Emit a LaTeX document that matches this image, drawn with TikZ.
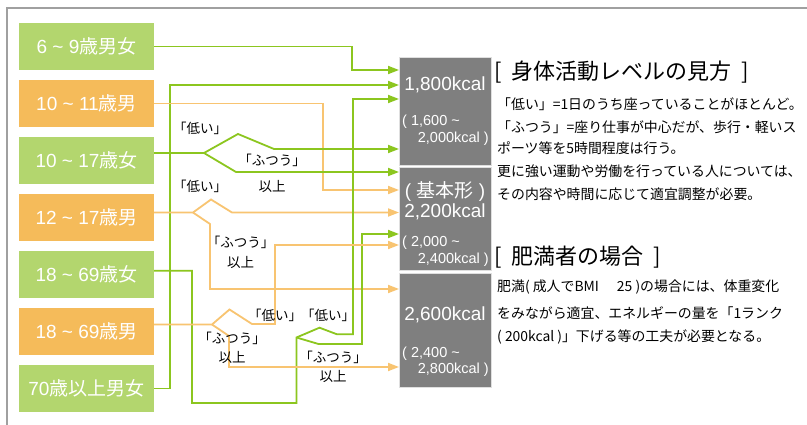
\documentclass[tikz,border=0pt]{standalone}
\usepackage{fontspec}
\setmainfont{Liberation Sans}
\newfontfamily\cj{Noto Sans CJK JP}
\usetikzlibrary{arrows.meta}
\definecolor{gbox}{RGB}{179,214,110}
\definecolor{obox}{RGB}{245,187,90}
\definecolor{gline}{RGB}{140,198,31}
\definecolor{oline}{RGB}{248,196,113}
\definecolor{kbox}{RGB}{127,127,127}
\definecolor{frm}{RGB}{160,160,160}
\newcommand{\tld}{\textasciitilde}
\tikzset{
  agebox/.style={minimum width=135pt, minimum height=47pt, inner sep=0pt, text=white, font=\fontsize{19}{19}\selectfont},
  gbx/.style={agebox, fill=gbox},
  obx/.style={agebox, fill=obox},
  kbx/.style={fill=kbox, draw=white!75!gray, line width=0.8pt, minimum width=92pt, inner sep=0pt, anchor=north west},
  kt/.style={text=white, inner sep=0pt, font=\fontsize{19}{19}\selectfont},
  ks/.style={text=white, inner sep=0pt, font=\fontsize{14.5}{15}\selectfont},
  tip/.style={-{Triangle[length=11pt,width=8pt]}},
  gl/.style={draw=gline, line width=1.8pt, tip},
  ol/.style={draw=oline, line width=1.8pt, tip},
  lbl/.style={inner sep=0pt, font=\cj\fontsize{13.5}{14}\selectfont},
  body/.style={inner sep=0pt, anchor=west, font=\cj\fontsize{13.9}{14}\selectfont},
  ttl/.style={inner sep=0pt, anchor=west, font=\cj\fontsize{22}{22}\selectfont},
}
\begin{document}
\begin{tikzpicture}[x=1pt,y=-1pt]
\useasboundingbox (0,0) rectangle (807,425);
\fill[white] (0,0) rectangle (807,425);
\draw[frm, line width=2pt] (7,426) -- (7,8) -- (808,8);

% age boxes
\node[gbx] (a1) at (86.5,46.5) {6 \tld\ 9{\cj 歳男女}};
\node[obx] (a2) at (86.5,103.5) {10 \tld\ 11{\cj 歳男}};
\node[gbx] (a3) at (86.5,160.5) {10 \tld\ 17{\cj 歳女}};
\node[obx] (a4) at (86.5,217.5) {12 \tld\ 17{\cj 歳男}};
\node[gbx] (a5) at (86.5,274.5) {18 \tld\ 69{\cj 歳女}};
\node[obx] (a6) at (86.5,331.5) {18 \tld\ 69{\cj 歳男}};
\node[gbx] (a7) at (86.5,388.5) {70{\cj 歳以上男女}};

% kcal boxes
\node[kbx, minimum height=108pt] (k1) at (399,57) {};
\node[kbx, minimum height=103pt] (k2) at (399,167) {};
\node[kbx, minimum height=114pt] (k3) at (399,273) {};

\node[kt] (t1) at (445,85) {1,800kcal};
\node[ks, anchor=west] (t1a) at (402,121.7) {( 1,600 \tld};
\node[ks, anchor=east] (t1b) at (489,139) {2,000kcal )};
\node[kt] (t2a) at (445,191.7) {( {\cj 基本形} )};
\node[kt] (t2b) at (445,212) {2,200kcal};
\node[ks, anchor=west] (t2c) at (402,242.3) {( 2,000 \tld};
\node[ks, anchor=east] (t2d) at (489,260) {2,400kcal )};
\node[kt] (t3a) at (445,315) {2,600kcal};
\node[ks, anchor=west] (t3b) at (402,353.3) {( 2,400 \tld};
\node[ks, anchor=east] (t3c) at (489,370) {2,800kcal )};

% connectors
\draw[gl] (a1.east) -| (352,70) -- (k1.west |- 0,70);
\draw[gl] (a7.east) -| (170,85) -- (k1.west |- 0,85);
\draw[ol] (a2.east) -| (323,190) -- (k2.west |- 0,190);

\draw[gl] (a3.east |- 0,153) -- (204,153) coordinate (f3) -- (238,134) -- (274,149) -- (k1.west |- 0,149);
\draw[gl] (f3) -- (236,172) -- (k2.west |- 0,172);

\draw[ol] (a4.east |- 0,212.5) -- (193,212.5) coordinate (f4) -- (211,199.5) -- (232,212.5) -- (k2.west |- 0,212.5);
\draw[ol] (f4) -- (210,224) -- (210,289) -- (k3.west |- 0,289);

\draw[gl] (a5.east |- 0,270.7) -| (192,403) -| (296.5,337.5) coordinate (f5) -- (319.5,327.7) -- (337,334.3) -| (353,99) -- (k1.west |- 0,99);
\draw[gl] (f5) -- (318.5,344) -| (362,234) -- (k2.west |- 0,234);

\draw[ol] (a6.east |- 0,324.5) -- (212,324.5) coordinate (f6) -- (229.5,309.5) -- (252,324) -| (275,245) -- (k2.west |- 0,245);
\draw[ol] (f6) -- (229,336) -- (229,367) -- (k3.west |- 0,367);

% line labels
\node[lbl] (l1) at (200,128) {「低い」};
\node[lbl] (l2) at (272,160) {「ふつう」};
\node[lbl] (l3) at (272,186) {以上};
\node[lbl] (l4) at (200,186) {「低い」};
\node[lbl] (l5) at (240.5,242) {「ふつう」};
\node[lbl] (l6) at (240.5,262) {以上};
\node[lbl] (l7) at (275,315) {「低い」};
\node[lbl] (l8) at (328,315) {「低い」};
\node[lbl] (l9) at (232,338) {「ふつう」};
\node[lbl] (l10) at (232,357) {以上};
\node[lbl] (l11) at (333,357) {「ふつう」};
\node[lbl] (l12) at (333,376.5) {以上};

% right texts
\node[ttl] (h1) at (494,71.7) {[\hspace{10pt}身体活動レベルの見方\hspace{10pt}]};
\node[body] (b1) at (497,104) {「低い」=1日のうち座っていることがほとんど。};
\node[body] (b2) at (497,127.3) {「ふつう」=座り仕事が中心だが、歩行・軽いス};
\node[body] (b3) at (497,148.3) {ポーツ等を5時間程度は行う。};
\node[body] (b4) at (497,171.7) {更に強い運動や労働を行っている人については、};
\node[body] (b5) at (497,194) {その内容や時間に応じて適宜調整が必要。};
\node[ttl] (h2) at (494,257.3) {[\hspace{10pt}肥満者の場合\hspace{10pt}]};
\node[body] (b6) at (497,287.3) {肥満( 成人でBMI\hspace{18pt}25 )の場合には、体重変化};
\node[body] (b7) at (497,313.3) {をみながら適宜、エネルギーの量を「1ランク};
\node[body] (b8) at (497,337.3) {( 200kcal )」下げる等の工夫が必要となる。};
\end{tikzpicture}
\end{document}
